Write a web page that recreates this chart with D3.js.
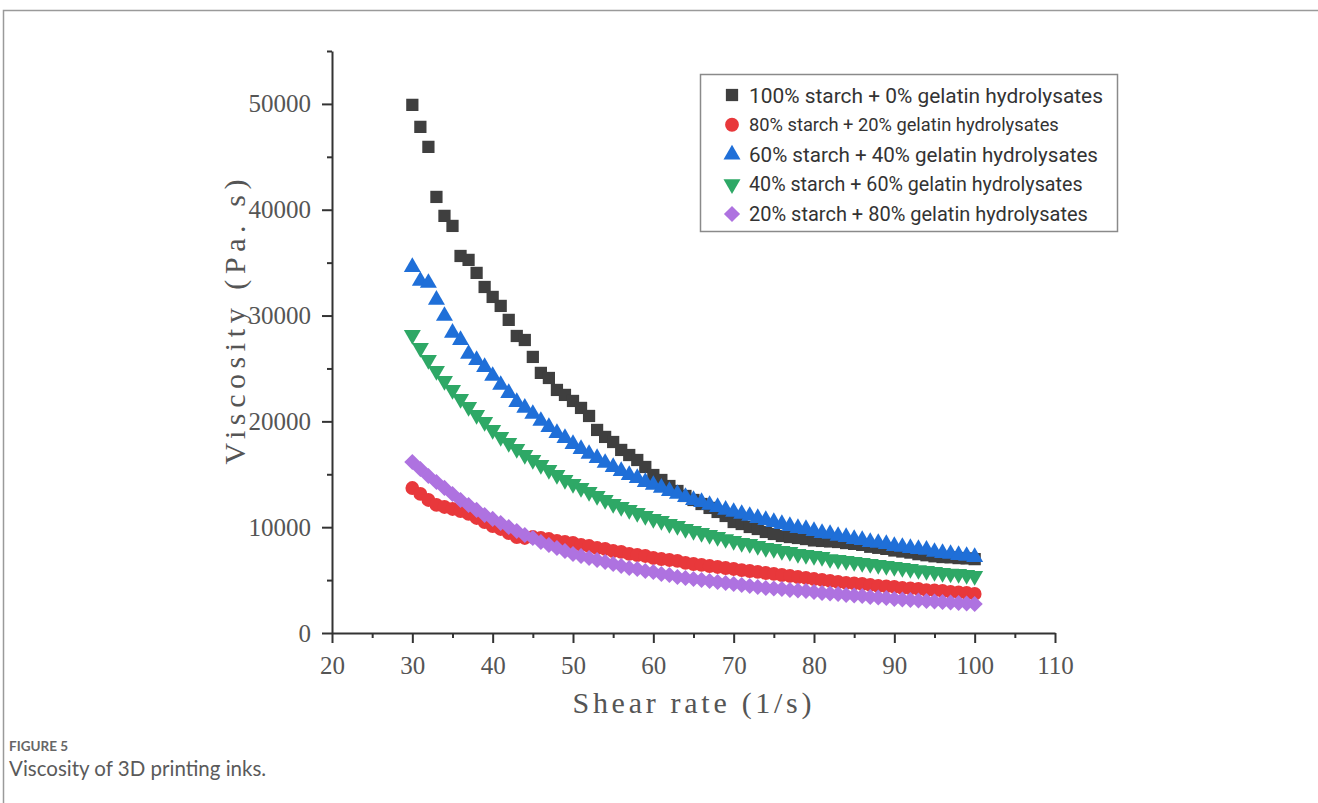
<!DOCTYPE html>
<html>
<head>
<meta charset="utf-8">
<script src="https://cdn.jsdelivr.net/npm/d3@7"></script>
<style>
  body { margin: 0; background: #fff; }
  svg { display: block; }
</style>
</head>
<body>
<script>
// values (viscosity in Pa.s)
var shearRate = [30,31,32,33,34,35,36,37,38,39,40,41,42,43,44,45,46,47,48,49,
  50,51,52,53,54,55,56,57,58,59,60,61,62,63,64,65,66,67,68,69,
  70,71,72,73,74,75,76,77,78,79,80,81,82,83,84,85,86,87,88,89,
  90,91,92,93,94,95,96,97,98,99,100];

var starch100 = [49910,47830,45940,41210,39420,38470,35630,35260,34030,32700,
  31760,30910,29590,28070,27690,26090,24580,24100,22970,22500,
  21930,21270,20510,19190,18530,18050,17300,16820,16350,15690,
  14930,14460,13890,13420,12950,12570,12190,11820,11440,11060,
  10490,10300,10020,9830,9550,9360,9170,9070,8980,8880,
  8750,8700,8650,8600,8500,8420,8330,8150,8050,7950,
  7800,7700,7600,7450,7350,7250,7180,7150,7080,7050,
  6980];

var starch80 = [13700,13140,12570,12100,11910,11720,11530,11250,10870,10490,
  10110,9830,9450,9070,8980,9070,8980,8880,8700,8600,
  8510,8320,8220,8030,7940,7750,7660,7470,7370,7280,
  7090,6990,6900,6810,6620,6520,6430,6330,6240,6140,
  6050,5950,5860,5770,5670,5580,5480,5390,5290,5200,
  5100,5010,4920,4820,4730,4680,4630,4540,4440,4400,
  4350,4250,4210,4160,4060,4020,3970,3880,3830,3780,
  3690];

var starch60 = [34590,33270,33080,31480,29960,28360,27690,26370,25800,25140,
  24290,23440,22680,21830,21270,20700,20040,19470,18900,18430,
  17860,17390,16920,16540,16070,15690,15310,14930,14650,14270,
  13990,13710,13420,13140,12850,12570,12380,12100,11910,11630,
  11440,11250,11060,10870,10680,10490,10300,10110,9920,9830,
  9640,9450,9360,9170,9070,8880,8790,8600,8510,8410,
  8220,8130,8030,7940,7850,7660,7560,7470,7370,7280,
  7180];

var starch40 = [28170,26940,25800,24760,23820,22970,22120,21360,20610,19940,
  19190,18530,17960,17390,16820,16350,15880,15410,14930,14460,
  14080,13710,13330,12950,12570,12190,11910,11630,11340,11060,
  10780,10590,10300,10110,9830,9640,9450,9260,9070,8880,
  8700,8510,8410,8220,8030,7940,7750,7660,7470,7370,
  7280,7180,6990,6900,6810,6710,6620,6520,6430,6330,
  6240,6140,6050,5950,5860,5770,5670,5620,5580,5480,
  5390];

var starch20 = [16160,15500,14840,14270,13710,13140,12570,12100,11630,11150,
  10780,10400,10020,9640,9260,8980,8600,8320,8030,7750,
  7470,7280,7090,6900,6710,6520,6330,6140,6050,5860,
  5770,5580,5480,5290,5200,5100,5010,4920,4820,4730,
  4630,4540,4440,4350,4250,4210,4160,4060,4020,3970,
  3880,3780,3730,3690,3590,3540,3500,3400,3360,3310,
  3210,3170,3120,3070,3020,2980,2930,2880,2840,2790,
  2740];

var seriesNames = [
  "100% starch + 0% gelatin hydrolysates",
  "80% starch + 20% gelatin hydrolysates",
  "60% starch + 40% gelatin hydrolysates",
  "40% starch + 60% gelatin hydrolysates",
  "20% starch + 80% gelatin hydrolysates"
];
var seriesValues = [starch100, starch80, starch60, starch40, starch20];

var xTicks = [20,30,40,50,60,70,80,90,100,110];
var xMinorTicks = [25,35,45,55,65,75,85,95,105];
var yTicks = [0,10000,20000,30000,40000,50000];
var yMinorTicks = [5000,15000,25000,35000,45000,55000];

// styles
var colors = ["#3f3f3f", "#e8383b", "#1f6fd8", "#2ea866", "#ae72e0"];
var shapes = [d3.symbolSquare, d3.symbolCircle, d3.symbolTriangle, d3.symbolTriangle, d3.symbolSquare];
var turns = [0, 0, 0, 180, 45];
var sizes = [150, 150, 125, 125, 130];
var legendFont = [20.9, 18.3, 20.6, 19.7, 20];

var svgWidth = 1318;
var svgHeight = 803;

var svg = d3.select("body")
  .append("svg")
  .attr("width", svgWidth)
  .attr("height", svgHeight);

// figure frame
svg.append("path")
  .attr("d", "M3.5,803V10.5H1318")
  .attr("fill", "none")
  .attr("stroke", "#9a9a9a")
  .attr("stroke-width", 1.5);

var x = d3.scaleLinear().domain([20, 110]).range([332, 1055]);
var y = d3.scaleLinear().domain([0, 55000]).range([633, 51]);

var serif = "'Liberation Serif', 'Times New Roman', serif";

function styleAxis(g) {
  g.selectAll("path, line").attr("stroke", "#333").attr("stroke-width", 2);
  g.selectAll("text")
    .attr("fill", "#555")
    .style("font-family", serif)
    .style("font-size", "25px");
}

// minor ticks
svg.append("g")
  .attr("transform", "translate(0,633)")
  .call(d3.axisBottom(x).tickValues(xMinorTicks).tickSize(5).tickFormat(""))
  .call(styleAxis)
  .select(".domain").remove();
svg.append("g")
  .attr("transform", "translate(332,0)")
  .call(d3.axisLeft(y).tickValues(yMinorTicks).tickSize(5).tickFormat(""))
  .call(styleAxis)
  .select(".domain").remove();

// major axes
svg.append("g")
  .attr("transform", "translate(0,633)")
  .call(d3.axisBottom(x).tickValues(xTicks).tickSize(10).tickSizeOuter(0).tickPadding(13))
  .call(styleAxis);
svg.append("g")
  .attr("transform", "translate(332,0)")
  .call(d3.axisLeft(y).tickValues(yTicks).tickSize(10).tickSizeOuter(0).tickPadding(11)
    .tickFormat(d3.format("d")))
  .call(styleAxis);

// axis titles
svg.append("text")
  .attr("x", 692)
  .attr("y", 713)
  .attr("text-anchor", "middle")
  .attr("fill", "#555")
  .attr("textLength", 239)
  .style("font-family", serif)
  .style("font-size", "30px")
  .text("Shear rate (1/s)");

svg.append("text")
  .attr("transform", "translate(245,322) rotate(-90)")
  .attr("text-anchor", "middle")
  .attr("fill", "#555")
  .attr("textLength", 285)
  .style("font-family", serif)
  .style("font-size", "30px")
  .text("Viscosity (Pa. s)");

// data points
seriesValues.forEach(function(vals, i) {
  var sym = d3.symbol().type(shapes[i]).size(sizes[i]);
  svg.append("g")
    .selectAll("path")
    .data(vals)
    .enter()
    .append("path")
    .attr("d", sym)
    .attr("fill", colors[i])
    .attr("transform", function(d, j) {
      return "translate(" + x(shearRate[j]) + "," + y(d) + ") rotate(" + turns[i] + ")";
    });
});

// legend
var legend = svg.append("g");
legend.append("rect")
  .attr("x", 700.5)
  .attr("y", 74.5)
  .attr("width", 417)
  .attr("height", 157)
  .attr("fill", "#fff")
  .attr("stroke", "#8a8a8a")
  .attr("stroke-width", 1.5);

var rowY = d3.scalePoint().domain(seriesNames).range([95, 214]);

seriesNames.forEach(function(name, i) {
  legend.append("path")
    .attr("d", d3.symbol().type(shapes[i]).size(sizes[i]))
    .attr("fill", colors[i])
    .attr("transform", "translate(732," + rowY(name) + ") rotate(" + turns[i] + ")");
  legend.append("text")
    .attr("x", 749)
    .attr("y", rowY(name))
    .attr("dy", "0.36em")
    .attr("fill", "#333")
    .style("font-family", "Roboto, Arial, sans-serif")
    .style("font-size", legendFont[i] + "px")
    .text(name);
});

// caption
svg.append("text")
  .attr("x", 9)
  .attr("y", 751)
  .attr("fill", "#666")
  .style("font-family", "Lato, 'Open Sans', sans-serif")
  .style("font-size", "13.5px")
  .style("font-weight", 700)
  .text("FIGURE 5");
svg.append("text")
  .attr("x", 9)
  .attr("y", 776)
  .attr("fill", "#5a5a5a")
  .style("font-family", "Lato, 'Open Sans', sans-serif")
  .style("font-size", "20.5px")
  .text("Viscosity of 3D printing inks.");
</script>
</body>
</html>
